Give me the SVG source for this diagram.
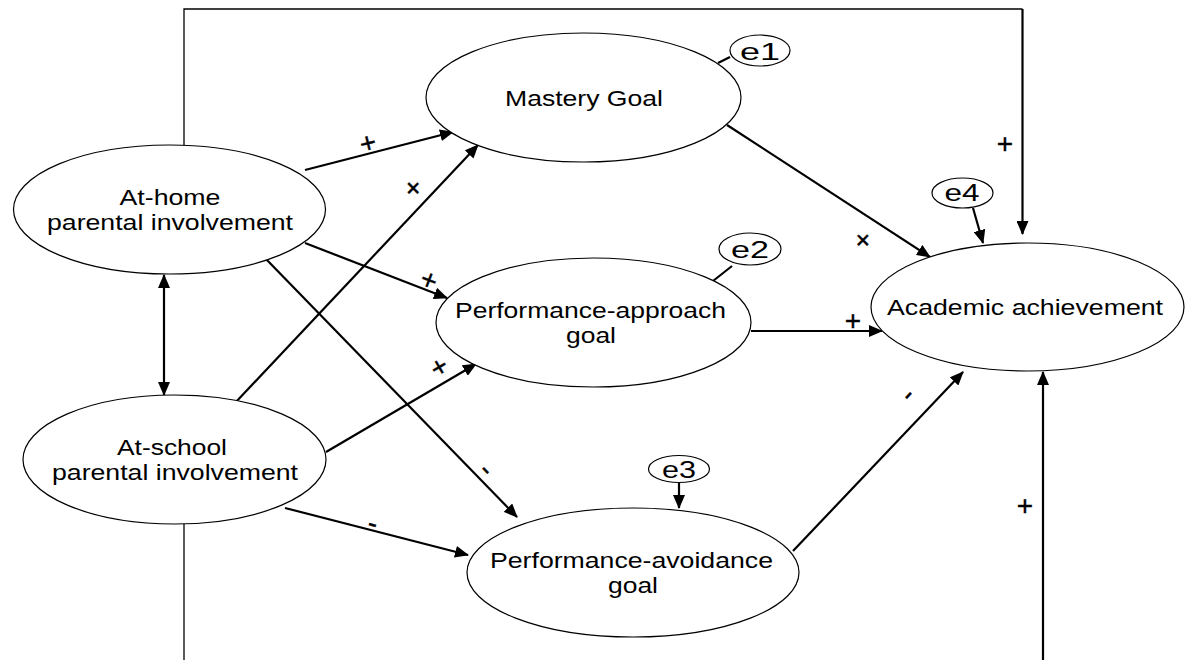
<svg xmlns="http://www.w3.org/2000/svg" width="1185" height="660" viewBox="0 0 1185 660">
<defs>
<style>
.node{fill:#fff;stroke:#000;stroke-width:1.2}
.t{font-family:"Liberation Sans",Arial,sans-serif;font-size:22px;fill:#000;text-anchor:middle}
.e{font-family:"Liberation Sans",Arial,sans-serif;font-size:24px;fill:#000;text-anchor:middle}
.lbl{font-family:"Liberation Sans",Arial,sans-serif;font-size:28px;fill:#000;stroke:#000;stroke-width:0.4;text-anchor:middle;dominant-baseline:central}
.c{fill:none;stroke:#000;stroke-width:2.2}
.thin{fill:none;stroke:#000;stroke-width:1.3}
</style>
<marker id="ah" markerUnits="userSpaceOnUse" markerWidth="14" markerHeight="12" viewBox="0 0 14 12" refX="13" refY="6" orient="auto">
<path d="M0,0 L14,6 L0,12 Z" fill="#000"/>
</marker>
<marker id="as" markerUnits="userSpaceOnUse" markerWidth="14" markerHeight="12" viewBox="0 0 14 12" refX="1" refY="6" orient="auto">
<path d="M14,0 L0,6 L14,12 Z" fill="#000"/>
</marker>
</defs>
<rect width="1185" height="660" fill="#fff"/>
<g id="connectors">
<polyline class="thin" points="184,145 184,9 1022.5,9"/>
<line class="c" x1="1022.5" y1="9" x2="1022.5" y2="234" marker-end="url(#ah)"/>
<line class="thin" x1="184" y1="524" x2="184" y2="660"/>
<line class="c" x1="1043" y1="660" x2="1043" y2="372" marker-end="url(#ah)"/>
<line class="c" x1="164" y1="275" x2="164" y2="395" marker-start="url(#as)" marker-end="url(#ah)"/>
<line class="c" x1="305" y1="170" x2="453" y2="132" marker-end="url(#ah)"/>
<line class="c" x1="235" y1="403" x2="478" y2="145" marker-end="url(#ah)"/>
<line class="c" x1="305" y1="243" x2="447" y2="298" marker-end="url(#ah)"/>
<line class="c" x1="265" y1="258" x2="517" y2="517" marker-end="url(#ah)"/>
<line class="c" x1="326" y1="452" x2="476" y2="364" marker-end="url(#ah)"/>
<line class="c" x1="285" y1="508" x2="468" y2="555" marker-end="url(#ah)"/>
<line class="c" x1="727" y1="125" x2="930" y2="257" marker-end="url(#ah)"/>
<line class="c" x1="751" y1="331" x2="882" y2="331" marker-end="url(#ah)"/>
<line class="c" x1="793" y1="551" x2="963" y2="372" marker-end="url(#ah)"/>
<line class="c" x1="730" y1="57" x2="718" y2="63"/>
<line class="c" x1="732" y1="266" x2="713" y2="281"/>
<line class="c" x1="679" y1="482" x2="679" y2="508" marker-end="url(#ah)"/>
<line class="c" x1="973" y1="208" x2="983" y2="243" marker-end="url(#ah)"/>
<text class="lbl" transform="translate(368,143) rotate(-14)">+</text>
<text class="lbl" transform="translate(413,188) rotate(-45)">+</text>
<text class="lbl" transform="translate(429,280) rotate(21)">+</text>
<text class="lbl" transform="translate(487,469) rotate(46)">-</text>
<text class="lbl" transform="translate(439,367) rotate(-30)">+</text>
<text class="lbl" transform="translate(373,523) rotate(15)">-</text>
<text class="lbl" transform="translate(863,240) rotate(45)">+</text>
<text class="lbl" transform="translate(853,320)">+</text>
<text class="lbl" transform="translate(907,394) rotate(-47)">-</text>
<text class="lbl" transform="translate(1005,143)">+</text>
<text class="lbl" transform="translate(1025,505)">+</text>
</g>
<g id="at-home">
<ellipse class="node" cx="169.5" cy="209.5" rx="156" ry="64.5"/>
<text class="t" x="170" y="205" textLength="101" lengthAdjust="spacingAndGlyphs">At-home</text>
<text class="t" x="170" y="230" textLength="246" lengthAdjust="spacingAndGlyphs">parental involvement</text>
</g>
<g id="at-school">
<ellipse class="node" cx="174.5" cy="459.5" rx="151.5" ry="64.5"/>
<text class="t" x="172" y="455" textLength="110" lengthAdjust="spacingAndGlyphs">At-school</text>
<text class="t" x="175" y="480" textLength="246" lengthAdjust="spacingAndGlyphs">parental involvement</text>
</g>
<g id="mastery">
<ellipse class="node" cx="583.5" cy="97.5" rx="157.5" ry="64.5"/>
<text class="t" x="584" y="106" textLength="158" lengthAdjust="spacingAndGlyphs">Mastery Goal</text>
</g>
<g id="perf-approach">
<ellipse class="node" cx="593.5" cy="322.5" rx="157.5" ry="64.5"/>
<text class="t" x="590.5" y="318" textLength="271" lengthAdjust="spacingAndGlyphs">Performance-approach</text>
<text class="t" x="591" y="343" textLength="50" lengthAdjust="spacingAndGlyphs">goal</text>
</g>
<g id="perf-avoidance">
<ellipse class="node" cx="633" cy="572.5" rx="166" ry="64.5"/>
<text class="t" x="631.5" y="568" textLength="283" lengthAdjust="spacingAndGlyphs">Performance-avoidance</text>
<text class="t" x="633" y="593" textLength="50" lengthAdjust="spacingAndGlyphs">goal</text>
</g>
<g id="academic">
<ellipse class="node" cx="1027.5" cy="307" rx="156.5" ry="64"/>
<text class="t" x="1025" y="315" textLength="276" lengthAdjust="spacingAndGlyphs">Academic achievement</text>
</g>
<g id="e1">
<ellipse class="node" cx="760" cy="50.5" rx="30" ry="15.5"/>
<text class="e" x="760" y="60" textLength="40" lengthAdjust="spacingAndGlyphs">e1</text>
</g>
<g id="e2">
<ellipse class="node" cx="750" cy="249" rx="31" ry="16"/>
<text class="e" x="750" y="258" textLength="38" lengthAdjust="spacingAndGlyphs">e2</text>
</g>
<g id="e3">
<ellipse class="node" cx="679" cy="469" rx="30.5" ry="13.5"/>
<text class="e" x="679" y="478" textLength="34" lengthAdjust="spacingAndGlyphs">e3</text>
</g>
<g id="e4">
<ellipse class="node" cx="962.5" cy="193" rx="30.5" ry="15"/>
<text class="e" x="962" y="201" textLength="35" lengthAdjust="spacingAndGlyphs">e4</text>
</g>
</svg>
